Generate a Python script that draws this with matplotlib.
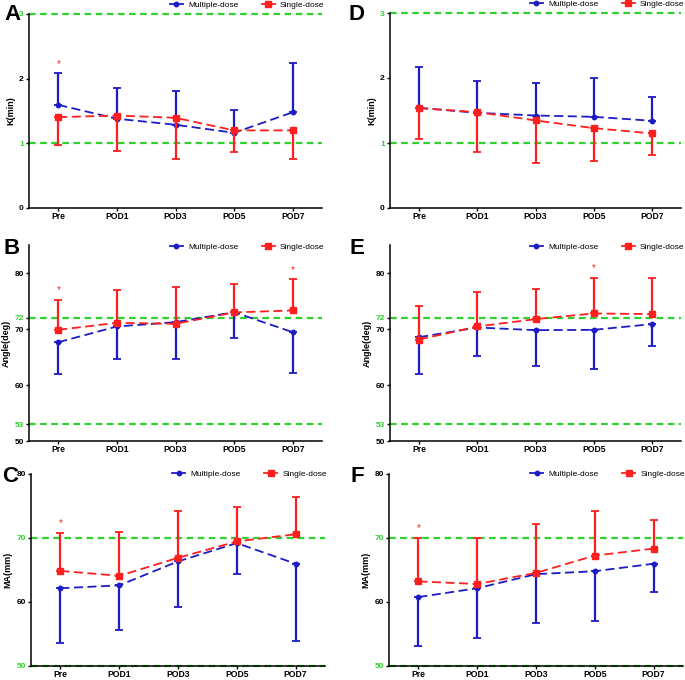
import numpy as np
import matplotlib
matplotlib.use('Agg')
from matplotlib import pyplot as plt
from matplotlib.lines import Line2D

plt.rcParams['font.family'] = ['Liberation Sans', 'DejaVu Sans']

days = ['Pre', 'POD1', 'POD3', 'POD5', 'POD7']

# panel A: K(min), group 1
a_multi = [1.595, 1.38, 1.287, 1.163, 1.48]
a_multi_sd = [0.495, 0.47, 0.523, 0.357, 0.77]
a_single = [1.405, 1.43, 1.395, 1.2, 1.2]
a_single_sd = [0.437, 0.555, 0.633, 0.33, 0.443]
a_star = [2.23, None, None, None, None]

# panel D: K(min), group 2
d_multi = [1.541, 1.464, 1.423, 1.403, 1.342]
d_multi_sd = [0.625, 0.497, 0.502, 0.599, 0.358]
d_single = [1.536, 1.475, 1.347, 1.229, 1.147]
d_single_sd = [0.481, 0.61, 0.651, 0.512, 0.338]
d_star = [None, None, None, None, None]

# panel B: Angle(deg), group 1
b_multi = [67.64, 70.45, 71.22, 73.0, 69.43]
b_multi_sd = [5.67, 5.73, 6.62, 4.58, 7.28]
b_single = [69.85, 71.1, 70.93, 72.96, 73.31]
b_single_sd = [5.37, 5.86, 6.62, 5.07, 5.56]
b_star = [76.9, None, None, None, 80.48]

# panel E: Angle(deg), group 2
e_multi = [68.54, 70.27, 69.79, 69.85, 70.87]
e_multi_sd = [6.51, 5.17, 6.33, 6.92, 3.94]
e_single = [68.12, 70.45, 71.76, 72.78, 72.66]
e_single_sd = [6.03, 6.09, 5.31, 6.32, 6.44]
e_star = [None, None, None, 80.9, None]

# panel C: MA(mm), group 1
c_multi = [62.15, 62.6, 66.34, 69.2, 65.98]
c_multi_sd = [8.6, 6.9, 7.16, 4.9, 12.02]
c_single = [64.86, 64.09, 66.9, 69.46, 70.59]
c_single_sd = [5.98, 6.86, 7.37, 5.37, 5.88]
c_star = [72.28, None, None, None, None]

# panel F: MA(mm), group 2
f_multi = [60.77, 62.15, 64.35, 64.81, 65.98]
f_multi_sd = [7.57, 7.77, 7.62, 7.82, 4.45]
f_single = [63.22, 62.81, 64.55, 67.26, 68.34]
f_single_sd = [6.81, 7.16, 7.68, 6.91, 4.45]
f_star = [71.5, None, None, None, None]

blue = '#1c1cc4'
red = '#ff1f1f'
green = '#2ed12e'

fig = plt.figure(figsize=(6.85, 6.8), dpi=100)
W, H = 685.0, 680.0


def make_axes(left, right, top, bottom):
    return fig.add_axes([left / W, 1 - bottom / H, (right - left) / W, (bottom - top) / H])


def panel(ax, letter, letter_xy, multi, multi_sd, single, single_sd, star, multi_up,
          ylim, ticks, green_vals, ylabel, leg_x, leg_y):
    x = np.arange(len(days))
    m_err = [np.zeros(5), multi_sd] if multi_up else [multi_sd, np.zeros(5)]
    s_err = [single_sd, np.zeros(5)] if multi_up else [np.zeros(5), single_sd]
    for g in green_vals:
        ax.axhline(g, color=green, lw=1.6, ls=(0, (3, 2)), zorder=1, clip_on=False)
    ax.errorbar(x, multi, yerr=m_err, color=blue, lw=1.3, ls=(0, (5, 2.5)),
                marker='o', ms=3.2, capsize=3, capthick=1.3, elinewidth=1.6, zorder=3)
    ax.errorbar(x, single, yerr=s_err, color=red, lw=1.3, ls=(0, (5, 2.5)),
                marker='s', ms=4, capsize=3, capthick=1.3, elinewidth=1.6, zorder=4)
    for i, s in enumerate(star):
        if s is not None:
            ax.text(i, s, '*', color=red, ha='center', va='center', fontsize=7)
    ax.set_xlim(-0.5, 4.5)
    ax.set_ylim(*ylim)
    ax.set_xticks(x)
    ax.set_xticklabels(days, fontsize=6.2, fontweight='bold')
    ax.set_yticks(ticks)
    ax.set_yticklabels([str(t) for t in ticks], fontsize=6, fontweight='bold')
    for t, lab in zip(ticks, ax.get_yticklabels()):
        if t in green_vals:
            lab.set_color(green)
    ax.tick_params(length=2.5, width=1, pad=1.2)
    ax.tick_params(axis='x', length=2, pad=1)
    ax.set_ylabel(ylabel, fontsize=6.5, fontweight='bold', labelpad=3)
    for sp in ['top', 'right']:
        ax.spines[sp].set_visible(False)
    for sp in ['left', 'bottom']:
        ax.spines[sp].set_linewidth(1.1)
    handles = [Line2D([], [], color=blue, marker='o', ms=3.2, lw=1.3),
               Line2D([], [], color=red, marker='s', ms=4, lw=1.3)]
    ax.legend(handles, ['Multiple-dose', 'Single-dose'], ncol=2, frameon=False,
              fontsize=6, loc='center left', bbox_to_anchor=(leg_x, leg_y),
              handlelength=1.6, handletextpad=0.6, columnspacing=2.8,
              borderaxespad=0, borderpad=0)
    fig.text(letter_xy[0] / W, 1 - letter_xy[1] / H, letter, fontsize=16,
             fontweight='bold', ha='center', va='center')


axA = make_axes(29, 322, 14, 208)
axD = make_axes(390, 681, 13, 208)
axB = make_axes(29, 322, 245, 441)
axE = make_axes(390, 681, 245, 441)
axC = make_axes(31, 325, 474, 666)
axF = make_axes(389, 683, 474, 666)

panel(axA, 'A', (12, 15), a_multi, a_multi_sd, a_single, a_single_sd, a_star, True,
      (0, 3), [0, 1, 2, 3], [1, 3], 'K(min)', 0.48, 1.045)
panel(axD, 'D', (357, 15), d_multi, d_multi_sd, d_single, d_single_sd, d_star, True,
      (0, 3), [0, 1, 2, 3], [1, 3], 'K(min)', 0.48, 1.045)
panel(axB, 'B', (12, 248), b_multi, b_multi_sd, b_single, b_single_sd, b_star, False,
      (50, 85), [50, 53, 60, 70, 72, 80], [53, 72], 'Angle(deg)', 0.48, 0.99)
panel(axE, 'E', (357, 248), e_multi, e_multi_sd, e_single, e_single_sd, e_star, False,
      (50, 85), [50, 53, 60, 70, 72, 80], [53, 72], 'Angle(deg)', 0.48, 0.99)
panel(axC, 'C', (10, 476), c_multi, c_multi_sd, c_single, c_single_sd, c_star, False,
      (50, 80), [50, 60, 70, 80], [50, 70], 'MA(mm)', 0.48, 1.0)
panel(axF, 'F', (357, 476), f_multi, f_multi_sd, f_single, f_single_sd, f_star, False,
      (50, 80), [50, 60, 70, 80], [50, 70], 'MA(mm)', 0.48, 1.0)

fig.savefig('out.png', dpi=100)
